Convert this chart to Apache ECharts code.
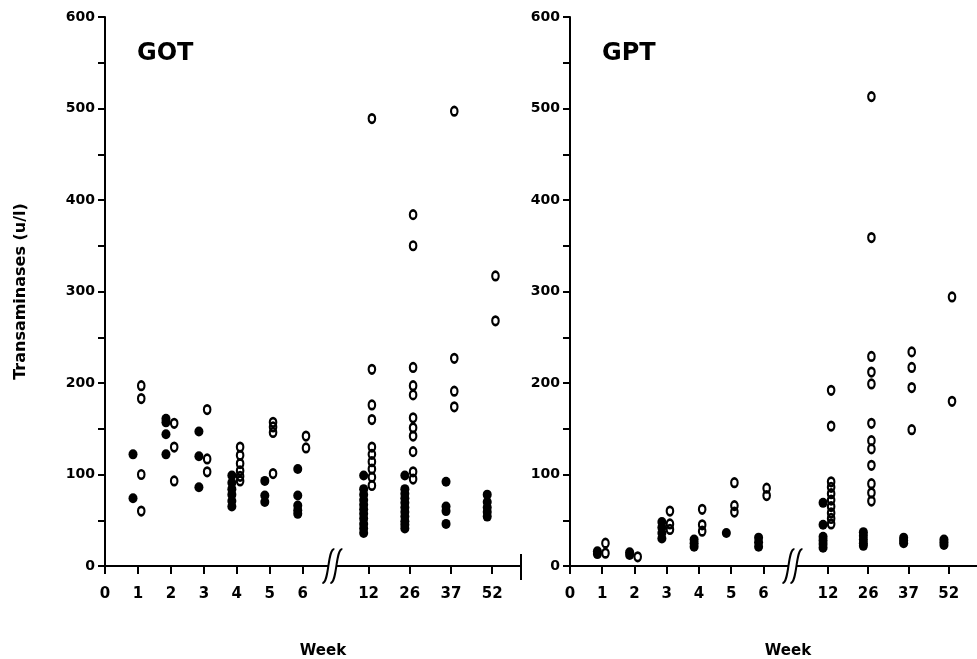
<!DOCTYPE html>
<html><head><meta charset="utf-8">
<script src="https://cdn.jsdelivr.net/npm/echarts@6/dist/echarts.min.js"></script>
<style>html,body{margin:0;padding:0;background:#fff}#c{width:977px;height:659px}</style>
</head><body><div id="c"></div>
<script>
// ---- data ----
const weeks = ['1','2','3','4','5','6','12','26','37','52'];
const axisTickLabels = ['0','1','2','3','4','5','6','12','26','37','52'];
// positions of the tick labels on the broken week scale
const axisPositions = [0,1,2,3,4,5,6,8,9.25,10.5,11.75];
const yTicks = [0,100,200,300,400,500,600];

// GOT (u/l), per week: filled = one group, open = other group
const gotFilled = [
  [122, 74],
  [161, 157, 144, 122],
  [147, 120, 86],
  [99, 91, 84, 78, 71, 65],
  [93, 77, 70],
  [106, 77, 66, 61, 57],
  [99, 84, 78, 72, 67, 62, 57, 52, 46, 41, 36],
  [99, 84, 79, 74, 69, 64, 59, 54, 49, 45, 41],
  [92, 65, 60, 46],
  [78, 70, 64, 59, 54]
];
const gotOpen = [
  [197, 183, 100, 60],
  [156, 130, 93],
  [171, 117, 103],
  [130, 121, 112, 104, 98, 93],
  [157, 152, 146, 101],
  [142, 129],
  [489, 215, 176, 160, 130, 122, 114, 106, 97, 88],
  [384, 350, 217, 197, 187, 162, 151, 142, 125, 103, 95],
  [497, 227, 191, 174],
  [317, 268]
];
// GPT (u/l)
const gptFilled = [
  [16, 13],
  [15, 12],
  [48, 42, 36, 30],
  [29, 25, 21],
  [36],
  [31, 26, 21],
  [69, 45, 32, 28, 24, 20],
  [37, 33, 29, 25, 22],
  [31, 28, 25],
  [29, 26, 23]
];
const gptOpen = [
  [25, 14],
  [10],
  [60, 46, 40],
  [62, 45, 38],
  [91, 66, 59],
  [85, 77],
  [192, 153, 92, 86, 79, 72, 65, 58, 52, 46],
  [513, 359, 229, 212, 199, 156, 137, 128, 110, 90, 80, 71],
  [234, 217, 195, 149],
  [294, 180]
];

// ---- layout / style ----
const FONT = 'DejaVu Sans';
const AXIS_MAX = 12.625;
const BREAK_AT = 6.9;
const FILLED_OFFSET = -0.15;
const OPEN_OFFSET = 0.1;

function buildPoints(groups, offset) {
  const out = [];
  groups.forEach((vals, i) => {
    const x = axisPositions[i + 1] + offset;
    vals.forEach(v => out.push([x, v]));
  });
  return out;
}
function labelFor(v) {
  for (let i = 0; i < axisPositions.length; i++) {
    if (Math.abs(axisPositions[i] - v) < 1e-6) return axisTickLabels[i];
  }
  return '';
}
function xAxisCfg(gi) {
  return {
    gridIndex: gi, type: 'value', min: 0, max: AXIS_MAX,
    axisLine: { show: true, onZero: false, lineStyle: { color: '#000', width: 2 } },
    axisTick: { show: true, customValues: axisPositions, length: 8, lineStyle: { color: '#000', width: 2 } },
    axisLabel: { show: true, customValues: axisPositions, formatter: labelFor, margin: 21,
      fontFamily: FONT, fontWeight: 'bold', fontSize: 15, color: '#000' },
    splitLine: { show: false }
  };
}
function yAxisCfg(gi, withName) {
  const c = {
    gridIndex: gi, type: 'value', min: 0, max: 600, interval: 50,
    axisLine: { show: true, lineStyle: { color: '#000', width: 2 } },
    axisTick: { show: true, length: 7, lineStyle: { color: '#000', width: 2 } },
    axisLabel: { show: true, formatter: v => (yTicks.indexOf(v) >= 0 ? String(v) : ''), margin: 10,
      fontFamily: FONT, fontWeight: 'bold', fontSize: 14, color: '#000' },
    splitLine: { show: false }
  };
  if (withName) {
    c.name = 'Transaminases (u/l)';
    c.nameLocation = 'middle';
    c.nameGap = 76;
    c.nameTextStyle = { fontFamily: FONT, fontWeight: 'bold', fontSize: 16, color: '#000' };
  }
  return c;
}
function filledSeries(gi, groups) {
  return { type: 'scatter', xAxisIndex: gi, yAxisIndex: gi, data: buildPoints(groups, FILLED_OFFSET),
    symbol: 'circle', symbolSize: [9, 10], itemStyle: { color: '#000', opacity: 1 }, silent: true, z: 3 };
}
function openSeries(gi, groups) {
  return { type: 'scatter', xAxisIndex: gi, yAxisIndex: gi, data: buildPoints(groups, OPEN_OFFSET),
    symbol: 'circle', symbolSize: [6.5, 8.5],
    itemStyle: { color: 'rgba(0,0,0,0)', borderColor: '#000', borderWidth: 2.4, opacity: 1 }, silent: true, z: 4 };
}

const chart = echarts.init(document.getElementById('c'), null, { renderer: 'canvas' });
chart.setOption({
  animation: false,
  backgroundColor: '#fff',
  grid: [
    { left: 105, top: 17, width: 416, height: 549 },
    { left: 570, top: 17, width: 416, height: 549 }
  ],
  xAxis: [xAxisCfg(0), xAxisCfg(1)],
  yAxis: [yAxisCfg(0, true), yAxisCfg(1, false)],
  series: [
    filledSeries(0, gotFilled), openSeries(0, gotOpen),
    filledSeries(1, gptFilled), openSeries(1, gptOpen)
  ]
});

function breakMark(gi) {
  const p = chart.convertToPixel({ gridIndex: gi }, [BREAK_AT, 0]);
  const cx = p[0], cy = p[1];
  const els = [{ type: 'rect', z: 100, shape: { x: cx - 4, y: cy - 2, width: 8, height: 4 }, style: { fill: '#fff' } }];
  [-4, 4].forEach(dx => {
    const x = cx + dx;
    els.push({ type: 'bezierCurve', z: 101,
      shape: { x1: x - 6, y1: cy + 17, cpx1: x + 1, cpy1: cy + 17, cpx2: x - 1, cpy2: cy - 17, x2: x + 6, y2: cy - 17 },
      style: { stroke: '#000', lineWidth: 2, fill: null } });
  });
  return els;
}
const endP = chart.convertToPixel({ gridIndex: 0 }, [AXIS_MAX, 0]);
const txt = (t, x, y, size, align) => ({ type: 'text', z: 100,
  style: { text: t, x: x, y: y, textAlign: align, textVerticalAlign: 'middle',
    font: 'bold ' + size + 'px "' + FONT + '"', fill: '#000' } });
chart.setOption({
  graphic: [].concat(
    breakMark(0), breakMark(1),
    [{ type: 'line', z: 100, shape: { x1: endP[0], y1: endP[1] - 12, x2: endP[0], y2: endP[1] + 14 },
       style: { stroke: '#000', lineWidth: 2 } }],
    [txt('GOT', 137, 54, 24, 'left'), txt('GPT', 602, 54, 24, 'left'),
     txt('Week', 323, 651, 15, 'center'), txt('Week', 788, 651, 15, 'center')]
  )
});
</script>
</body></html>
